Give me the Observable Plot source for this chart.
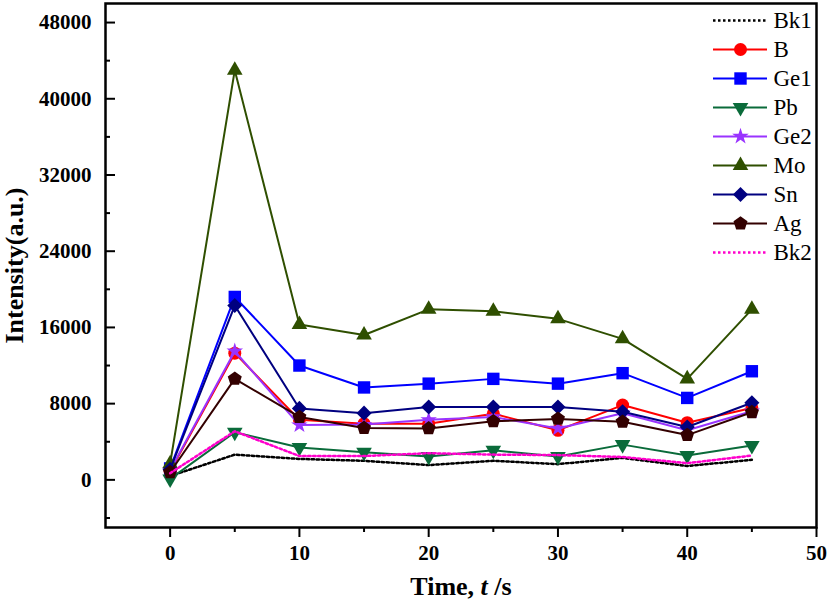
<!DOCTYPE html>
<html><head><meta charset="utf-8">
<script src="https://cdn.jsdelivr.net/npm/d3@7"></script>
<script src="https://cdn.jsdelivr.net/npm/@observablehq/plot@0.6"></script>
<style>
body{margin:0;background:#fff;}
#wrap{position:relative;width:829px;height:609px;overflow:hidden;}
#legend{position:absolute;left:713px;top:10px;}
</style></head><body><div id="wrap"><div id="legend"></div></div>
<script>
// ---- data ----
const times = [0, 5, 10, 15, 20, 25, 30, 35, 40, 45];
const seriesNames = ["Bk1", "B", "Ge1", "Pb", "Ge2", "Mo", "Sn", "Ag", "Bk2"];
const bk1 = [400, 2650, 2200, 2000, 1550, 2000, 1650, 2300, 1450, 2100];
const b   = [900, 13300, 6300, 5900, 5900, 6950, 5200, 7850, 6000, 7550];
const ge1 = [1200, 19200, 12000, 9700, 10100, 10600, 10100, 11200, 8600, 11400];
const pb  = [100, 5000, 3400, 2900, 2450, 3100, 2450, 3700, 2550, 3600];
const ge2 = [1000, 13500, 5750, 5800, 6300, 6600, 5400, 7000, 5200, 7200];
const mo  = [1700, 43000, 16300, 15200, 17900, 17700, 16900, 14800, 10600, 17900];
const sn  = [1100, 18300, 7500, 7000, 7650, 7650, 7650, 7150, 5550, 8100];
const ag  = [800, 10600, 6600, 5450, 5400, 6150, 6400, 6100, 4700, 7100];
const bk2 = [700, 5100, 2500, 2500, 2800, 2650, 2600, 2400, 1750, 2550];
const yTicks = [0, 8000, 16000, 24000, 32000, 40000, 48000];
const yMinor = [-4000, 4000, 12000, 20000, 28000, 36000, 44000];
const xTicks = [0, 10, 20, 30, 40, 50];
const xMinor = [5, 15, 25, 35, 45];
const xTitle = "Time, t /s";
const yTitle = "Intensity(a.u.)";

const values = {Bk1: bk1, B: b, Ge1: ge1, Pb: pb, Ge2: ge2, Mo: mo, Sn: sn, Ag: ag, Bk2: bk2};

// ---- custom symbols ----
const triangleDown = {draw(ctx, size) {
  const y = -Math.sqrt(size / (Math.sqrt(3) * 3));
  ctx.moveTo(0, -y * 2);
  ctx.lineTo(-Math.sqrt(3) * y, y);
  ctx.lineTo(Math.sqrt(3) * y, y);
  ctx.closePath();
}};
const pentagon = {draw(ctx, size) {
  const R = Math.sqrt(size / (2.5 * Math.sin(2 * Math.PI / 5)));
  for (let k = 0; k < 5; k++) {
    const a = -Math.PI / 2 + k * 2 * Math.PI / 5;
    const px = R * Math.cos(a), py = R * Math.sin(a);
    if (k === 0) ctx.moveTo(px, py); else ctx.lineTo(px, py);
  }
  ctx.closePath();
}};

// ---- styles ----
const style = {
  Bk1: {color: "#000000", dash: "2.5,2.5", symbol: null},
  B:   {color: "#ff0000", symbol: "circle", r: 6.5},
  Ge1: {color: "#0000ff", symbol: "square", r: 7},
  Pb:  {color: "#0a6b3a", symbol: triangleDown, r: 5.8},
  Ge2: {color: "#9933ff", symbol: "star", r: 5.2},
  Mo:  {color: "#2f4f00", symbol: "triangle", r: 5.8},
  Sn:  {color: "#000080", symbol: "diamond2", r: 6.8},
  Ag:  {color: "#330000", symbol: pentagon, r: 6.4},
  Bk2: {color: "#ff00cc", dash: "2.5,2.5", symbol: null}
};
const fontFamily = '"Liberation Serif","Times New Roman",serif';

const seriesMarks = seriesNames.flatMap(name => {
  const st = style[name];
  const data = times.map((t, i) => ({t, v: values[name][i]}));
  const m = [Plot.line(data, {x: "t", y: "v", stroke: st.color, strokeWidth: st.dash ? 2.5 : 2, strokeDasharray: st.dash || null})];
  if (st.symbol) m.push(Plot.dot(data, {x: "t", y: "v", symbol: st.symbol, r: st.r, fill: st.color, stroke: "none"}));
  return m;
});

const chart = Plot.plot({
  width: 829, height: 609,
  marginLeft: 105, marginRight: 13, marginTop: 3, marginBottom: 82,
  style: {fontFamily, color: "black", background: "white"},
  x: {domain: [-5, 50]},
  y: {domain: [-5000, 50000]},
  marks: [
    ...seriesMarks,
    Plot.axisY(yTicks, {anchor: "left", tickSize: 0, tickPadding: 14, fontSize: 21, fontWeight: "bold", label: null, tickFormat: d => String(d)}),
    Plot.axisY(yTicks, {anchor: "left", tickSize: -10, fill: "none", label: null, strokeWidth: 2}),
    Plot.axisY(yMinor, {anchor: "left", tickSize: -5, fill: "none", label: null, strokeWidth: 2}),
    Plot.axisX(xTicks, {anchor: "bottom", tickSize: 10, tickPadding: 8, fontSize: 21, fontWeight: "bold", label: null, strokeWidth: 2, tickFormat: d => String(d)}),
    Plot.axisX(xMinor, {anchor: "bottom", tickSize: 5, fill: "none", label: null, strokeWidth: 2}),
    Plot.frame({stroke: "black", strokeWidth: 2.5}),
    Plot.text([yTitle], {frameAnchor: "left", textAnchor: "middle", rotate: -90, dx: -91, text: d => d, fontSize: 26, fontWeight: "bold", fill: "black"}),
    Plot.text([xTitle], {frameAnchor: "bottom", textAnchor: "middle", dy: 67, text: d => d, fontSize: 26, fontWeight: "bold", fill: "black"})
  ]
});

// italic "t" in the x title
chart.querySelectorAll("text").forEach(el => {
  if (el.textContent === xTitle) {
    el.textContent = "";
    const ns = "http://www.w3.org/2000/svg";
    [["Time, ", false], ["t", true], [" /s", false]].forEach(([s, it]) => {
      const ts = document.createElementNS(ns, "tspan");
      if (it) ts.setAttribute("font-style", "italic");
      ts.textContent = s;
      el.appendChild(ts);
    });
  }
});
document.getElementById("wrap").prepend(chart);

// ---- legend ----
const legendMarks = seriesNames.flatMap(name => {
  const st = style[name];
  const m = [Plot.ruleY([name], {y: d => d, x1: 0, x2: 1, stroke: st.color, strokeWidth: st.dash ? 2.5 : 2, strokeDasharray: st.dash || null})];
  if (st.symbol) m.push(Plot.dot([name], {x: 0.5, y: d => d, symbol: st.symbol, r: st.r, fill: st.color, stroke: "none"}));
  m.push(Plot.text([name], {x: 1, y: d => d, text: d => d, dx: 6, textAnchor: "start", fontSize: 23, fill: "black"}));
  return m;
});
const legend = Plot.plot({
  width: 116, height: 252,
  marginLeft: 0, marginRight: 62, marginTop: 10, marginBottom: 10,
  style: {fontFamily, background: "transparent", overflow: "visible"},
  x: {domain: [0, 1], axis: null},
  y: {type: "point", domain: seriesNames, padding: 0, axis: null},
  marks: legendMarks
});
document.getElementById("legend").appendChild(legend);
</script>
</body></html>
